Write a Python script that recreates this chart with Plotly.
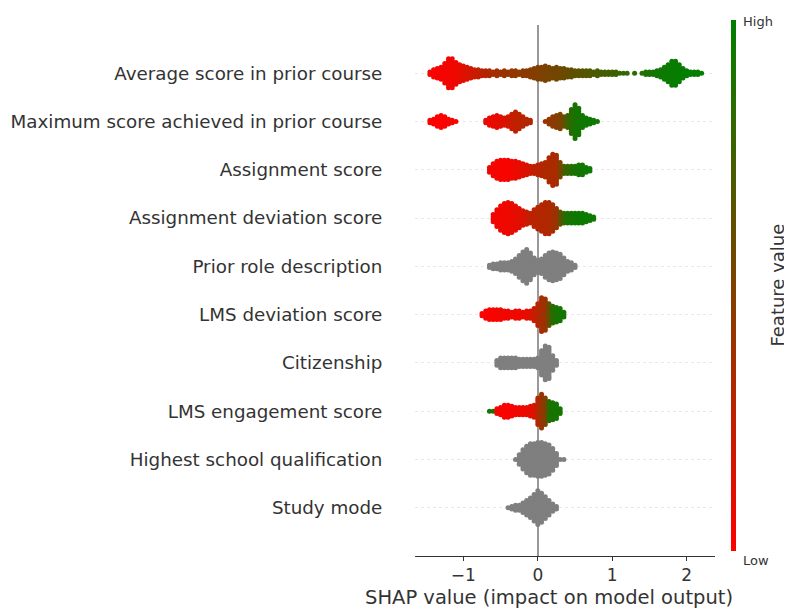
import plotly.graph_objects as go

# ---------------- data ----------------
features = [
    "Average score in prior course",
    "Maximum score achieved in prior course",
    "Assignment score",
    "Assignment deviation score",
    "Prior role description",
    "LMS deviation score",
    "Citizenship",
    "LMS engagement score",
    "Highest school qualification",
    "Study mode",
]

x_ticks = [-1, 0, 1, 2]
x_tick_labels = ["\u22121", "0", "1", "2"]
colorbar_labels = ["Low", "High"]

BIN_WIDTH = 0.05  # SHAP value bin width of the beeswarm

# each feature: first bin centre, number of points per bin, mean feature value per bin (0=low, 1=high)
avg_start = -1.45
avg_counts = [2, 4, 5, 6, 9, 13, 13, 10, 8,
              7, 6, 5, 4, 4, 3, 3, 3, 2, 3,
              2, 3, 2, 3, 3, 2, 3, 3, 4, 5,
              6, 6, 7, 6, 5, 6, 5, 5, 4, 4,
              3, 3, 3, 3, 3, 2, 3, 2, 2, 2,
              2, 2, 1, 1, 1, 0, 1, 0, 1, 2,
              2, 2, 3, 4, 6, 8, 11, 11, 8, 5,
              3, 2, 2, 2, 1]
avg_fv = [0.02, 0.02, 0.03, 0.03, 0.04, 0.05, 0.05, 0.07, 0.1,
          0.12, 0.15, 0.18, 0.2, 0.24, 0.27, 0.3, 0.32, 0.34, 0.36,
          0.38, 0.4, 0.41, 0.42, 0.43, 0.44, 0.45, 0.46, 0.47, 0.48,
          0.5, 0.5, 0.52, 0.53, 0.54, 0.55, 0.56, 0.58, 0.6, 0.62,
          0.63, 0.64, 0.66, 0.67, 0.68, 0.7, 0.71, 0.72, 0.73, 0.74,
          0.75, 0.76, 0.78, 0.8, 0.8, 0.82, 0.82, 0.85, 0.86, 0.88,
          0.9, 0.9, 0.92, 0.94, 0.95, 0.96, 0.97, 0.97, 0.98, 0.98,
          0.98, 0.99, 0.99, 0.99, 0.99]

max_start = -1.45
max_counts = [2, 3, 5, 6, 5, 3, 2, 1,
              0, 0, 0, 0, 0, 0, 0,
              2, 4, 5, 6, 5, 4, 5, 7, 9, 7, 5, 3, 2,
              0, 0, 0,
              1, 3, 5, 6, 7, 5, 6, 11, 15, 12, 6, 4, 3, 2, 1]
max_fv = [0.0, 0.0, 0.01, 0.01, 0.01, 0.02, 0.02, 0.02,
          0, 0, 0, 0, 0, 0, 0,
          0.08, 0.08, 0.1, 0.1, 0.12, 0.15, 0.18, 0.22, 0.25, 0.27, 0.28, 0.3, 0.3,
          0, 0, 0,
          0.4, 0.42, 0.45, 0.48, 0.5, 0.6, 0.75, 0.85, 0.9, 0.92, 0.93, 0.94, 0.95, 0.95, 0.95]

asg_start = -0.65
asg_counts = [3, 6, 8, 9, 9, 9, 8, 8, 7, 6, 5, 4, 4, 5, 6, 7, 11, 14, 13, 7,
              4, 4, 4, 4, 5, 5, 3, 2]
asg_fv = [0.05, 0.05, 0.04, 0.03, 0.03, 0.03, 0.05, 0.08, 0.1, 0.12, 0.15, 0.2,
          0.25, 0.28, 0.3, 0.32, 0.33, 0.33, 0.35, 0.5, 0.7, 0.8, 0.85, 0.9, 0.92,
          0.93, 0.95, 0.95]

dev_start = -0.60
dev_counts = [4, 8, 11, 13, 14, 13, 11, 9, 7, 6, 5, 8, 10, 12, 14, 14, 12, 9, 6, 5,
              5, 5, 5, 5, 5, 4, 3, 2]
dev_fv = [0.05, 0.05, 0.05, 0.06, 0.07, 0.08, 0.1, 0.12, 0.15, 0.2, 0.25, 0.28,
          0.3, 0.3, 0.3, 0.32, 0.35, 0.4, 0.6, 0.8, 0.9, 0.92, 0.93, 0.94, 0.95,
          0.95, 0.95, 0.95]

role_start = -0.65
role_counts = [2, 3, 3, 4, 4, 4, 5, 7, 10, 13, 15, 12, 8, 6, 7, 10, 12, 13, 12, 11,
               8, 5, 4, 2]
role_fv = None

lmsdev_start = -0.75
lmsdev_counts = [2, 4, 5, 5, 5, 5, 4, 4, 3, 4, 4, 3, 4, 4, 6, 10, 15, 14, 10, 8,
                 7, 6, 3]
lmsdev_fv = [0.02, 0.02, 0.02, 0.02, 0.03, 0.05, 0.05, 0.05, 0.06, 0.06, 0.05,
             0.08, 0.1, 0.15, 0.2, 0.3, 0.35, 0.4, 0.6, 0.85, 0.9, 0.92, 0.92]

cit_start = -0.55
cit_counts = [3, 5, 5, 5, 5, 5, 4, 4, 4, 4, 4, 5, 11, 15, 14, 7, 3]
cit_fv = None

lmseng_start = -0.65
lmseng_counts = [1, 1, 3, 4, 6, 6, 5, 4, 4, 4, 4, 5, 6, 12, 15, 12, 9, 8, 7, 3]
lmseng_fv = [0.9, 0.9, 0.05, 0.03, 0.02, 0.02, 0.03, 0.05, 0.05, 0.06, 0.08, 0.1,
             0.15, 0.3, 0.4, 0.5, 0.85, 0.9, 0.92, 0.92]

school_start = -0.30
school_counts = [1, 5, 9, 12, 14, 14, 15, 15, 14, 13, 10, 6, 1, 1]
school_fv = None

mode_start = -0.40
mode_counts = [1, 2, 3, 3, 5, 7, 9, 12, 15, 13, 10, 7, 4, 2]
mode_fv = None

rows = [
    (avg_start, avg_counts, avg_fv),
    (max_start, max_counts, max_fv),
    (asg_start, asg_counts, asg_fv),
    (dev_start, dev_counts, dev_fv),
    (role_start, role_counts, role_fv),
    (lmsdev_start, lmsdev_counts, lmsdev_fv),
    (cit_start, cit_counts, cit_fv),
    (lmseng_start, lmseng_counts, lmseng_fv),
    (school_start, school_counts, school_fv),
    (mode_start, mode_counts, mode_fv),
]

# ---------------- style ----------------
FONT = "DejaVu Sans"
TEXT = "#333333"
GREY_PT = "#7f7f7f"
CSCALE = [[0.0, "#ff0000"], [1.0, "#008000"]]
STACK = 0.05  # vertical spacing between stacked points, in row units

fig = go.Figure()
n = len(features)
colorbar_done = False
for i, (start, counts, fv) in enumerate(rows):
    ypos = n - 1 - i
    xs, ys, cs = [], [], []
    for j, c in enumerate(counts):
        xv = round(start + j * BIN_WIDTH, 4)
        for k in range(c):
            xs.append(xv)
            ys.append(ypos + (k - (c - 1) / 2.0) * STACK)
            if fv is not None:
                cs.append(fv[j])
    marker = dict(size=5, line=dict(width=0))
    if fv is None:
        marker["color"] = GREY_PT
    else:
        marker.update(color=cs, colorscale=CSCALE, cmin=0, cmax=1)
        if not colorbar_done:
            marker.update(
                showscale=True,
                colorbar=dict(
                    x=1.053, xanchor="left", y=0.51, yanchor="middle",
                    len=1.0, lenmode="fraction", ypad=0, xpad=0,
                    thickness=5, outlinewidth=0,
                    tickvals=[], showticklabels=False, ticks="",
                ),
            )
            colorbar_done = True
    fig.add_trace(go.Scatter(x=xs, y=ys, mode="markers", marker=marker,
                             hoverinfo="skip", showlegend=False))

# the page body has an 8px margin, so the figure is 8px smaller than the window
fig.update_layout(
    width=784, height=602,
    margin=dict(l=407, r=77, t=17, b=54, autoexpand=False),
    paper_bgcolor="white", plot_bgcolor="white",
    font=dict(family=FONT, color=TEXT),
    annotations=[
        dict(text="SHAP value (impact on model output)", xref="paper", yref="paper",
             x=0.448, y=-0.078, xanchor="center", yanchor="middle", showarrow=False,
             font=dict(family=FONT, size=19.5, color=TEXT)),
        dict(text="Feature value", xref="paper", yref="paper",
             x=1.208, y=0.51, xanchor="center", yanchor="middle", showarrow=False,
             textangle=-90, font=dict(family=FONT, size=18, color=TEXT)),
        dict(text=colorbar_labels[1], xref="paper", yref="paper",
             x=1.087, y=1.006, xanchor="left", yanchor="middle", showarrow=False,
             font=dict(family=FONT, size=13, color=TEXT)),
        dict(text=colorbar_labels[0], xref="paper", yref="paper",
             x=1.087, y=-0.008, xanchor="left", yanchor="middle", showarrow=False,
             font=dict(family=FONT, size=13, color=TEXT)),
    ],
)
fig.update_xaxes(
    range=[-1.65, 2.38],
    tickvals=x_ticks, ticktext=x_tick_labels,
    tickfont=dict(family=FONT, size=17, color=TEXT),
    showgrid=False,
    zeroline=True, zerolinecolor="#999999", zerolinewidth=1.5,
    showline=True, linecolor=TEXT, linewidth=1,
    ticks="outside", ticklen=4, tickcolor=TEXT,
)
fig.update_yaxes(
    range=[-1, n],
    tickvals=list(range(n)), ticktext=list(reversed(features)),
    tickfont=dict(family=FONT, size=18.3, color=TEXT),
    showgrid=True, gridcolor="#e8e8e8", gridwidth=0.5, griddash="dot",
    zeroline=False, showline=False,
    ticks="outside", ticklen=28, tickcolor="rgba(0,0,0,0)",
)

fig.write_html("out.html")
